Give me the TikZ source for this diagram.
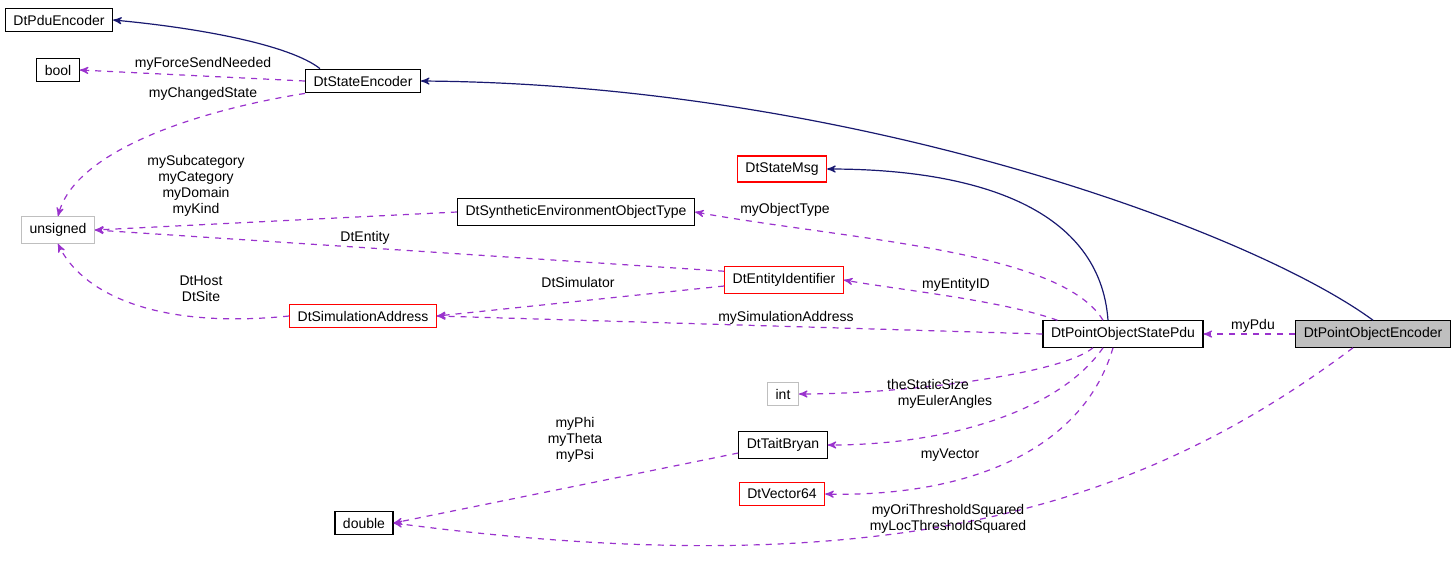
\documentclass[tikz,border=0pt]{standalone}
\usepackage{fontspec}
\setmainfont{Liberation Sans}
\usetikzlibrary{arrows}
\definecolor{inh}{HTML}{191970}
\definecolor{use}{HTML}{9A32CD}
\definecolor{grayb}{HTML}{BFBFBF}

\begin{document}
\begin{tikzpicture}[x=0.5pt,y=-0.5pt,>=stealth',thick,
  box/.style={rectangle,draw,line width=0.6pt,font=\fontsize{7}{8}\selectfont,
    minimum height=11.5pt,inner xsep=4pt},
  red box/.style={box,draw=red},
  gray box/.style={box,draw=grayb},
  base/.style={->,draw=inh,line width=0.6pt},
  member/.style={->,draw=use,dashed,line width=0.6pt},
  lbl/.style={font=\fontsize{7}{8}\selectfont,align=center,inner sep=1pt}]

  \useasboundingbox (0,0) rectangle (1456,570);

  \node[box] (PDUENC) at (59,20) {DtPduEncoder};
  \node[box] (BOOL) at (58,70) {bool};
  \node[box] (STATEENC) at (363,81) {DtStateEncoder};
  \node[gray box] (UNSIGNED) at (58,230) {unsigned};
  \node[red box] (STATEMSG) at (782,169) {DtStateMsg};
  \node[box] (SYNTH) at (576,212) {DtSyntheticEnvironmentObjectType};
  \node[red box] (ENTID) at (784,280) {DtEntityIdentifier};
  \node[red box] (SIMADDR) at (363,316) {DtSimulationAddress};
  \node[box] (POSPDU) at (1123,334) {DtPointObjectStatePdu};
  \node[box,fill=grayb] (POENC) at (1373,334) {DtPointObjectEncoder};
  \node[gray box] (INT) at (783,394) {int};
  \node[box] (TAIT) at (783,445) {DtTaitBryan};
  \node[red box] (VEC) at (782,494) {DtVector64};
  \node[box] (DOUBLE) at (364,523) {double};

  % inheritance
  \draw[base] (STATEENC.north west) ++(15,0) .. controls (290,45) and (200,28) .. (PDUENC.east);
  \draw[base] (POENC.north) .. controls (1250,230) and (850,84) .. (STATEENC.east);
  \draw[base] (POSPDU.north) ++(-15,0) .. controls (1100,210) and (980,169) .. (STATEMSG.east);

  % members
  \draw[member] (STATEENC.west) -- (BOOL.east);
  \node[lbl] at (203,64) {myForceSendNeeded};
  \draw[member] (STATEENC.south west) ++(0,0) .. controls (200,110) and (75,150) .. (UNSIGNED.north);
  \node[lbl] at (203,94) {myChangedState};
  \draw[member] (SYNTH.west) -- (UNSIGNED.east);
  \node[lbl] at (196,186) {mySubcategory\\myCategory\\myDomain\\myKind};
  \draw[member] (ENTID.north west) ++(0,5) -- (UNSIGNED.east);
  \node[lbl] at (365,238) {DtEntity};
  \draw[member] (SIMADDR.west) .. controls (150,330) and (80,290) .. (UNSIGNED.south);
  \node[lbl] at (201,289) {DtHost\\DtSite};
  \draw[member] (ENTID.west) ++(0,6) -- (SIMADDR.east);
  \node[lbl] at (578,282) {DtSimulator};
  \draw[member] (POSPDU.north) ++(-20,0) .. controls (1060,250) and (850,240) .. (SYNTH.east);
  \node[lbl] at (785,210) {myObjectType};
  \draw[member] (POSPDU.north west) ++(15,0) .. controls (1000,300) and (900,290) .. (ENTID.east);
  \node[lbl] at (956,285) {myEntityID};
  \draw[member] (POSPDU.west) -- (SIMADDR.east);
  \node[lbl] at (786,318) {mySimulationAddress};
  \draw[member] (POSPDU.south) ++(-30,0) .. controls (1060,375) and (900,394) .. (INT.east);
  \node[lbl] at (928,384) {theStaticSize};
  \draw[member] (POSPDU.south) ++(-20,0) .. controls (1060,410) and (950,445) .. (TAIT.east);
  \node[lbl] at (945,402) {myEulerAngles};
  \draw[member] (POSPDU.south) ++(-10,0) .. controls (1080,460) and (950,497) .. (VEC.east);
  \node[lbl] at (950,455) {myVector};
  \draw[member] (TAIT.west) ++(0,8) -- (DOUBLE.east);
  \node[lbl] at (575,440) {myPhi\\myTheta\\myPsi};
  \draw[member] (POENC.south) ++(-20,0) .. controls (1150,500) and (900,590) .. (DOUBLE.east);
  \node[lbl] at (948,519) {myOriThresholdSquared\\myLocThresholdSquared};
  \draw[member] (POENC.west) -- (POSPDU.east);
  \node[lbl] at (1253,326) {myPdu};
\end{tikzpicture}
\end{document}
